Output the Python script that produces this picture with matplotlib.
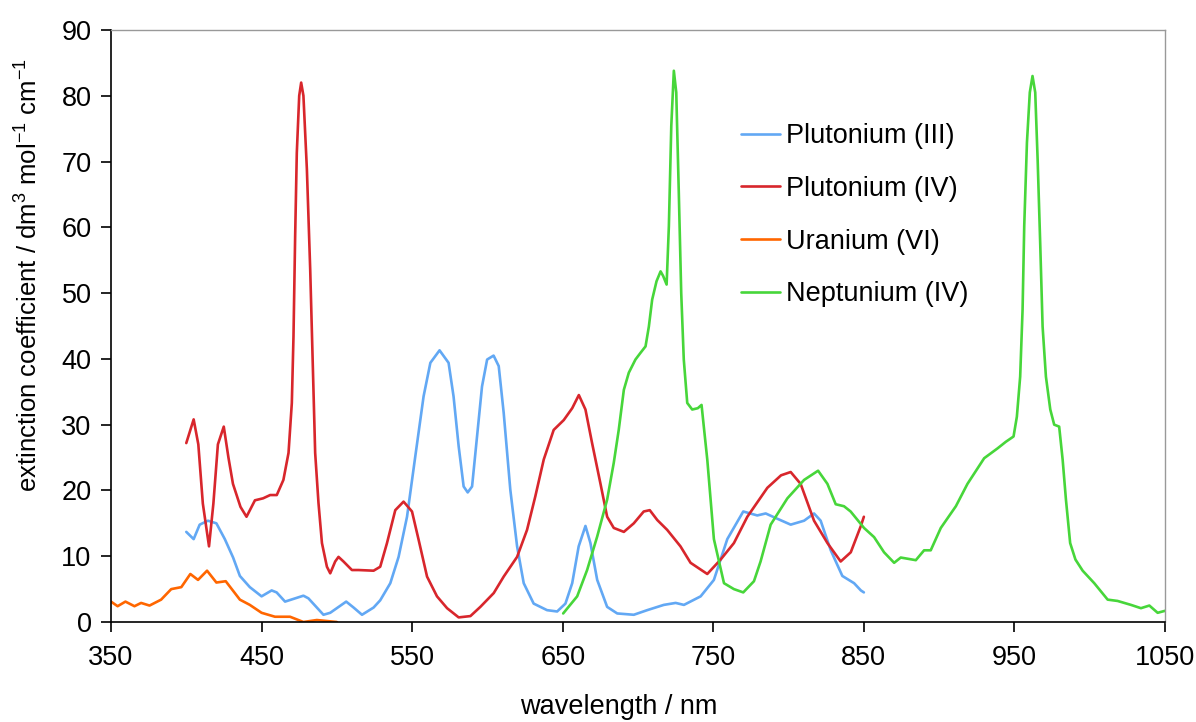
import numpy as np
import matplotlib
matplotlib.use("Agg")
import matplotlib.pyplot as plt

plt.rcParams['font.family'] = ['Liberation Sans', 'DejaVu Sans']
plt.rcParams['mathtext.fontset'] = 'custom'
plt.rcParams['mathtext.rm'] = 'Liberation Sans'

# Plutonium (III)
pu3_x = [400, 404.9, 408.9, 414.4, 420, 425.6, 431.1, 435.6, 442.2, 450, 456.7, 460, 465.6,
         477.8, 481.1, 491.1, 495.6, 506.2, 511.1, 516.7, 524.4, 528.8, 535.5, 541, 546.6,
         552.1, 557.6, 562.1, 568.2, 574.2, 577.5, 580.9, 584.2, 586.9, 589.8, 593.1, 596.4,
         599.8, 604.1, 607.5, 610.8, 615.2, 619.7, 624.1, 630.7, 639.6, 646.3, 651.8, 656.3,
         660.6, 665.1, 668.4, 672.9, 679.5, 686.2, 697.2, 706.1, 717.1, 725, 730.5, 741.6,
         750.4, 759.3, 769.9, 779.2, 784.8, 792.5, 801.4, 810.3, 816.9, 821.3, 828, 835.7,
         843.5, 848, 850]
pu3_y = [13.7, 12.6, 14.8, 15.4, 15.0, 12.6, 9.8, 7.0, 5.3, 3.9, 4.8, 4.5, 3.1,
         4.0, 3.6, 1.1, 1.4, 3.1, 2.2, 1.1, 2.2, 3.3, 5.9, 9.9, 16.0,
         25.2, 34.3, 39.4, 41.3, 39.4, 34.3, 26.7, 20.6, 19.7, 20.6, 28.2, 35.8,
         39.9, 40.5, 38.9, 31.8, 20.1, 11.5, 5.9, 2.8, 1.8, 1.6, 2.8, 5.9,
         11.5, 14.6, 12.0, 6.4, 2.3, 1.3, 1.1, 1.8, 2.6, 2.9, 2.6, 3.9,
         6.4, 12.6, 16.8, 16.2, 16.5, 15.7, 14.8, 15.4, 16.5, 15.4, 10.9, 7.0,
         5.9, 4.8, 4.5]

# Plutonium (IV)
pu4_x = [400, 404.9, 408, 411, 415.1, 418, 421, 424.9, 428, 431, 436, 440, 445.6, 451,
         455.7, 460.1, 464.5, 467.9, 470.1, 471.2, 472.3, 473.4, 475, 476.3, 477.8, 480.1,
         482.3, 484.1, 485.6, 487.8, 490.1, 493.4, 495.6, 498.9, 501.1, 504.4, 510, 514.4,
         524.4, 528.8, 533.3, 538.8, 544.3, 549.9, 554.3, 559.9, 566.5, 573.2, 580.9, 588.7,
         595.3, 604.2, 610.8, 619.7, 626.3, 631.8, 637.4, 644, 650.7, 656.3, 660.7, 665.1,
         669.5, 675, 679.5, 683.9, 690.6, 697.2, 703.8, 707.8, 712.8, 719.4, 728.2, 734.9,
         746, 754.9, 763.7, 772.6, 785.9, 795, 801.4, 808, 816.9, 825.8, 834.6, 841.3,
         848, 850]
pu4_y = [27.2, 30.8, 27.0, 18.0, 11.5, 18.0, 27.0, 29.7, 25.0, 21.0, 17.5, 16.0, 18.5, 18.8,
         19.3, 19.3, 21.6, 25.7, 33.3, 43.4, 58.6, 71.3, 80.0, 82.0, 80.0, 68.8,
         53.6, 38.4, 25.7, 18.1, 12.0, 8.4, 7.4, 9.2, 9.9, 9.2, 7.9, 7.9,
         7.8, 8.4, 12.0, 17.0, 18.3, 16.8, 12.5, 6.9, 3.9, 2.1, 0.7, 0.9,
         2.3, 4.4, 6.9, 9.9, 14.0, 19.1, 24.7, 29.2, 30.7, 32.5, 34.5, 32.3,
         27.2, 21.1, 16.0, 14.3, 13.7, 15.0, 16.8, 17.0, 15.5, 14.0, 11.5, 9.0,
         7.3, 9.5, 12.0, 16.0, 20.4, 22.3, 22.8, 21.0, 15.4, 12.0, 9.2, 10.6,
         14.6, 16.0]

# Uranium (VI)
u6_x = [350, 354.4, 359.6, 365.6, 370, 375.6, 383.3, 390, 396.7, 402.7, 407.8, 413.8, 420,
        426.2, 435.6, 442.2, 450, 458.9, 468.9, 477.8, 486.7, 500]
u6_y = [3.1, 2.4, 3.1, 2.4, 2.9, 2.5, 3.4, 5.0, 5.3, 7.3, 6.4, 7.8, 6.0,
        6.2, 3.4, 2.6, 1.4, 0.8, 0.8, 0.0, 0.3, 0.0]

# Neptunium (IV)
np4_x = [650.3, 659.6, 666.2, 672.9, 679.5, 683.9, 687.2, 690.6, 693.9, 698.3, 701.6, 705,
         707.2, 709.4, 712.3, 715, 716.7, 719, 720.5, 722.1, 723.8, 725.4, 727.1, 728.7,
         730.4, 732.7, 736, 739.7, 742.2, 743.7, 746, 750.4, 757.1, 763.7, 769.9, 777,
         781.4, 788.1, 799.2, 810.3, 819.6, 825.8, 831.3, 836.8, 841.2, 850.1, 856.8,
         863.4, 870.1, 874.5, 884.5, 890, 894.4, 901.1, 911.1, 918.8, 929.9, 938.8, 944.3,
         949.4, 951.6, 953.8, 955.4, 956.5, 958.3, 960.2, 962, 963.8, 965.4, 967.1, 968.7,
         970.9, 973.8, 976.4, 979.7, 982, 984.2, 987, 990.5, 995.3, 1003, 1011.9, 1018.5,
         1027.4, 1034, 1039.6, 1045.1, 1050]
np4_y = [1.3, 3.9, 7.9, 13.0, 18.6, 24.2, 29.2, 35.3, 37.9, 39.9, 40.9, 41.9,
         44.9, 49.0, 51.8, 53.3, 52.6, 51.3, 60.2, 75.4, 83.8, 80.5, 65.2, 50.0,
         39.9, 33.3, 32.3, 32.5, 33.0, 29.7, 24.7, 12.6, 5.9, 5.0, 4.5, 6.2,
         9.2, 14.8, 18.8, 21.6, 23.0, 21.0, 17.9, 17.6, 16.8, 14.3, 12.9,
         10.6, 9.0, 9.8, 9.4, 10.9, 10.9, 14.3, 17.6, 21.0, 24.9, 26.4, 27.4,
         28.2, 31.2, 37.3, 47.5, 60.2, 72.9, 80.5, 83.0, 80.5, 70.3, 57.6, 44.9,
         37.3, 32.3, 30.0, 29.7, 24.7, 18.6, 12.0, 9.5, 7.8, 5.9, 3.4, 3.2,
         2.6, 2.1, 2.5, 1.4, 1.7]

series = [
    ("Plutonium (III)", pu3_x, pu3_y, "#62A8F4"),
    ("Plutonium (IV)", pu4_x, pu4_y, "#D8262C"),
    ("Uranium (VI)", u6_x, u6_y, "#FF6600"),
    ("Neptunium (IV)", np4_x, np4_y, "#47D63A"),
]

fig = plt.figure(figsize=(11.96, 7.22), dpi=100)
ax = fig.add_axes([0.0928, 0.1385, 0.8813, 0.820])

for name, xs, ys, col in series:
    ax.plot(xs, ys, color=col, lw=1.9, label=name,
            solid_joinstyle='round', solid_capstyle='round')

ax.set_xlim(350, 1050)
ax.set_ylim(0, 90)
ax.set_xticks(np.arange(350, 1051, 100))
ax.set_yticks(np.arange(0, 91, 10))
ax.tick_params(direction='out', length=7, width=1.2, labelsize=19.5)
ax.tick_params(axis='x', pad=9.5)
ax.tick_params(axis='y', pad=7)
for s in ['left', 'bottom']:
    ax.spines[s].set_linewidth(1.2)
    ax.spines[s].set_color('black')
for s in ['top', 'right']:
    ax.spines[s].set_linewidth(1.0)
    ax.spines[s].set_color('#999999')

ax.set_xlabel('wavelength / nm', fontsize=19.5)
ax.xaxis.set_label_coords(0.482, -0.122)
ax.set_ylabel(r'extinction coefficient / dm$^\mathregular{3}$ mol$^\mathregular{-1}$ cm$^\mathregular{-1}$',
              fontsize=18.5)
ax.yaxis.set_label_coords(-0.066, 0.586)

ax.legend(loc='upper left', bbox_to_anchor=(0.585, 0.865), frameon=False, fontsize=19.5,
          handlelength=1.45, handletextpad=0.2, labelspacing=0.98, borderpad=0)

fig.savefig('out.png', dpi=100)
